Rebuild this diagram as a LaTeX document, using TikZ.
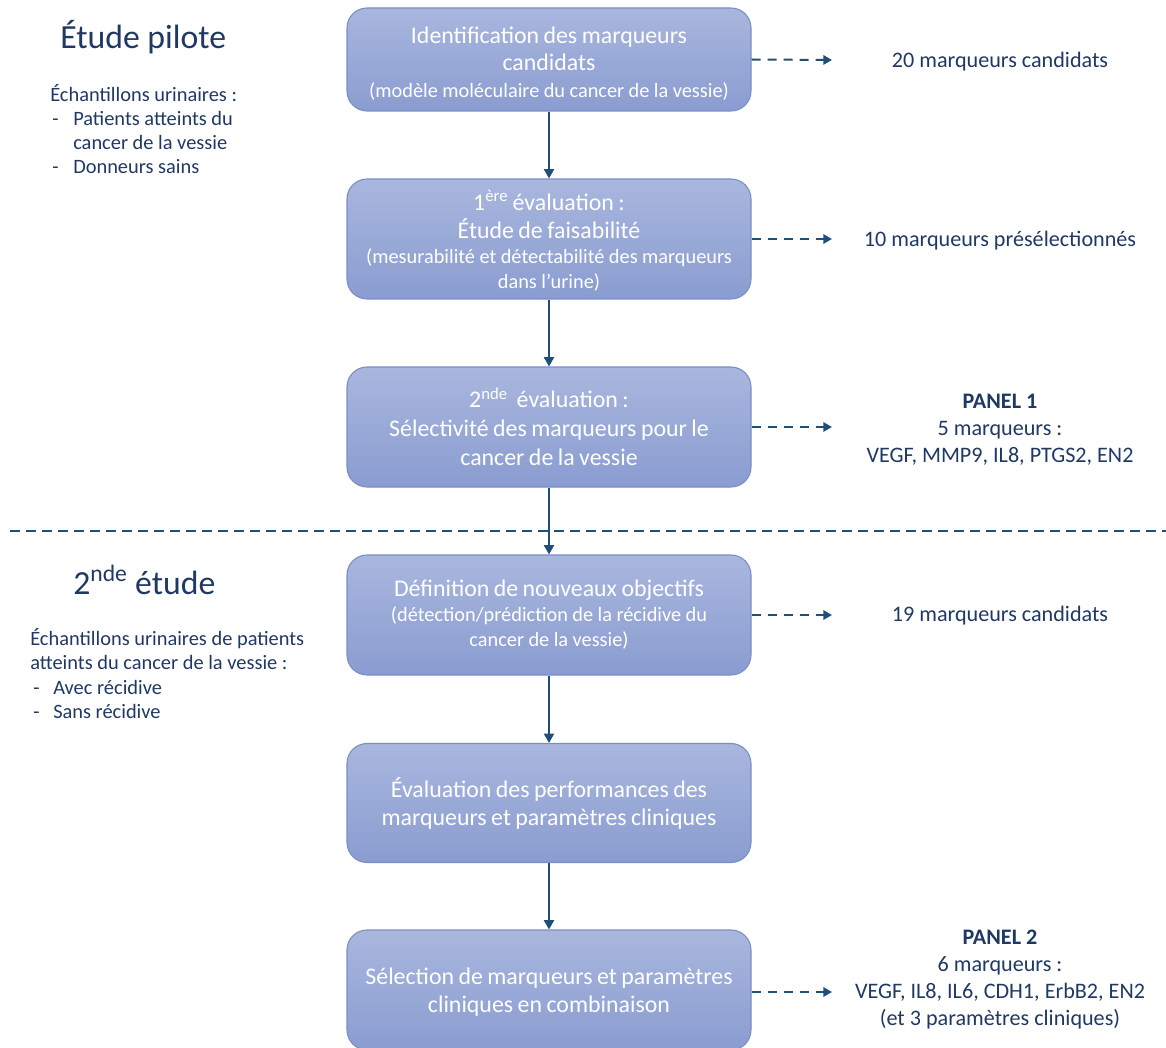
\documentclass[tikz,border=0pt]{standalone}
\usepackage{fontspec}
\setmainfont{Carlito}
\usetikzlibrary{arrows.meta}
\definecolor{navy}{HTML}{1F3864}
\definecolor{arr}{HTML}{1F4E79}
\definecolor{boxtop}{HTML}{A9B7DE}
\definecolor{boxbot}{HTML}{8A9CD0}
\definecolor{boxline}{HTML}{7A8EC6}
\newcommand{\bigf}[1]{\fontsize{17.9}{#1}\selectfont}
\newcommand{\smallf}[1]{\fontsize{15.25}{#1}\selectfont}
\begin{document}
\begin{tikzpicture}[x=0.75pt,y=-0.75pt,
  stepbox/.style={draw=boxline, line width=0.8pt, rounded corners=15pt,
    top color=boxtop, bottom color=boxbot, minimum width=303pt,
    text width=298pt, align=center, text=white, inner sep=0pt},
  flow/.style={draw=arr, line width=1.5pt, -{Triangle[length=7pt,width=7.5pt]}},
  dasharr/.style={draw=arr, line width=1.5pt, dash pattern=on 6.75pt off 5.25pt,
    -{Triangle[length=6.5pt,width=7pt]}},
  sep/.style={draw=arr, line width=1.5pt, dash pattern=on 7.5pt off 4.5pt},
  result/.style={text=navy, align=center, font=\fontsize{16.6}{20.25}\selectfont, inner sep=0pt},
  ttl/.style={text=navy, anchor=base west, inner sep=0pt, font=\fontsize{25.3}{30}\selectfont},
  side/.style={text=navy, anchor=base west, inner sep=0pt, font=\fontsize{15.3}{18}\selectfont}
]
\useasboundingbox (0,0) rectangle (1166,1048);

% separator
\coordinate (sepL) at (10,531);
\coordinate (sepR) at (1166,531);
\draw[sep] (sepL) -- (sepR);

% boxes
\node[stepbox, minimum height=77.25pt] (b1) at (549,59.5)
 {\bigf{20.75pt}\rule{0pt}{18.5pt}Identification des marqueurs\\candidats\par
  \smallf{20pt}(modèle moléculaire du cancer de la vessie)\par};
\node[stepbox, minimum height=90pt] (b2) at (549,239)
 {\bigf{21pt}\rule{0pt}{18pt}1\textsuperscript{ère} évaluation :\\Étude de faisabilité\par
  \smallf{19pt}(mesurabilité et détectabilité des marqueurs\\dans l’urine)\par};
\node[stepbox, minimum height=90pt] (b3) at (549,427)
 {\bigf{21.75pt}2\textsuperscript{nde}\ \ évaluation :\\Sélectivité des marqueurs pour le\\cancer de la vessie\par};
\node[stepbox, minimum height=90pt] (b4) at (549,615)
 {\bigf{20pt}Définition de nouveaux objectifs\par
  \smallf{18.75pt}(détection/prédiction de la récidive du\\cancer de la vessie)\par};
\node[stepbox, minimum height=89.25pt] (b5) at (549,803)
 {\bigf{21pt}Évaluation des performances des\\marqueurs et paramètres cliniques\par};
\node[stepbox, minimum height=90pt] (b6) at (549,990)
 {\bigf{21pt}\rule{0pt}{16pt}Sélection de marqueurs et paramètres\\cliniques en combinaison\par};

% vertical arrows
\draw[flow] (b1.south) -- (b2.north);
\draw[flow] (b2.south) -- (b3.north);
\draw[flow] (b3.south) -- (b4.north);
\draw[flow] (b4.south) -- (b5.north);
\draw[flow] (b5.south) -- (b6.north);

% result texts
\node[result] (r1) at (1000,62) {20 marqueurs candidats};
\node[result] (r2) at (1000,241) {10 marqueurs présélectionnés};
\node[result] (r3) at (1000,430) {\textbf{PANEL 1}\\5 marqueurs :\\VEGF, MMP9, IL8, PTGS2, EN2};
\node[result] (r4) at (1000,616) {19 marqueurs candidats};
\node[result] (r6) at (1000,980) {\textbf{PANEL 2}\\6 marqueurs :\\VEGF, IL8, IL6, CDH1, ErbB2, EN2\\(et 3 paramètres cliniques)};

% dashed arrows
\coordinate (e1) at (832,60);
\coordinate (e2) at (832,239);
\coordinate (e3) at (832,427);
\coordinate (e4) at (832,615);
\coordinate (e6) at (832,992);
\draw[dasharr] (b1.east) -- (e1);
\draw[dasharr] (b2.east) -- (e2);
\draw[dasharr] (b3.east) -- (e3);
\draw[dasharr] (b4.east) -- (e4);
\draw[dasharr] (b6.east |- e6) -- (e6);

% left titles
\node[ttl] (t1) at (60,49) {Étude pilote};
\node[ttl] (t2) at (73,594) {2\textsuperscript{nde} étude};

% left texts, pilot study
\node[side] (p1) at (50,102) {Échantillons urinaires :};
\node[side] (p2d) at (52,126) {-};
\node[side] (p2) at (73,126) {Patients atteints du};
\node[side] (p3) at (73,150) {cancer de la vessie};
\node[side] (p4d) at (52,174) {-};
\node[side] (p4) at (73,174) {Donneurs sains};

% left texts, second study
\node[side] (s1) at (30,645.5) {Échantillons urinaires de patients};
\node[side] (s2) at (30,669.5) {atteints du cancer de la vessie :};
\node[side] (s3d) at (33,694.5) {-};
\node[side] (s3) at (53,694.5) {Avec récidive};
\node[side] (s4d) at (33,718.5) {-};
\node[side] (s4) at (53,718.5) {Sans récidive};
\end{tikzpicture}
\end{document}
